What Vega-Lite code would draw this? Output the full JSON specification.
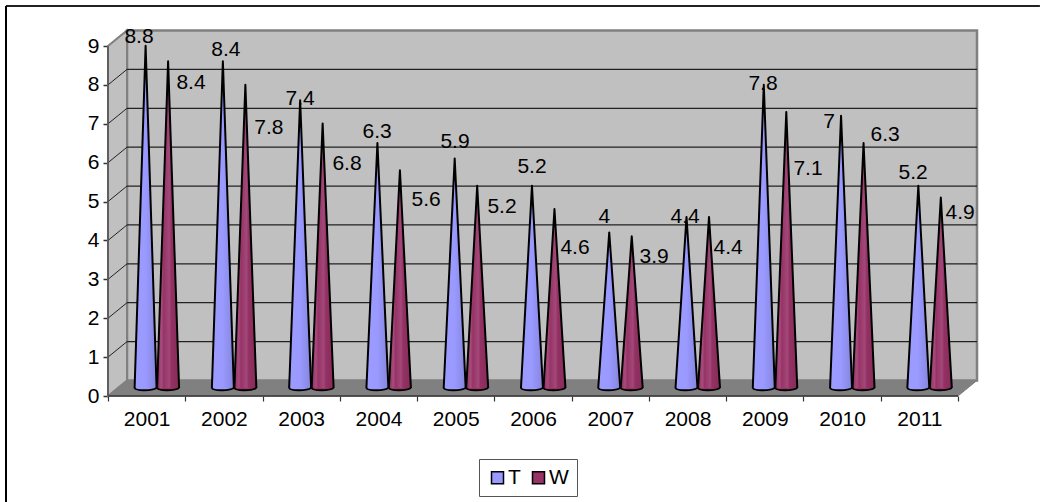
{
"$schema":"https://vega.github.io/schema/vega-lite/v6.json",
"width":850,"height":350,
"autosize":"none",
"padding":{"left":108,"top":46,"right":82,"bottom":106},
"background":"white",
"config":{"view":{"stroke":null},"font":"Liberation Sans"},
"datasets":{
"rates":[
{"year":2001,"series":"T","value":8.8,"baseLeft":0,"baseRight":0},
{"year":2002,"series":"T","value":8.4,"baseLeft":0,"baseRight":0},
{"year":2003,"series":"T","value":7.4,"baseLeft":0,"baseRight":0},
{"year":2004,"series":"T","value":6.3,"baseLeft":0,"baseRight":0},
{"year":2005,"series":"T","value":5.9,"baseLeft":0,"baseRight":0},
{"year":2006,"series":"T","value":5.2,"baseLeft":0,"baseRight":0},
{"year":2007,"series":"T","value":4,"baseLeft":0,"baseRight":0},
{"year":2008,"series":"T","value":4.4,"baseLeft":0,"baseRight":0},
{"year":2009,"series":"T","value":7.8,"baseLeft":0,"baseRight":0},
{"year":2010,"series":"T","value":7,"baseLeft":0,"baseRight":0},
{"year":2011,"series":"T","value":5.2,"baseLeft":0,"baseRight":0},
{"year":2001,"series":"W","value":8.4,"baseLeft":0,"baseRight":0},
{"year":2002,"series":"W","value":7.8,"baseLeft":0,"baseRight":0},
{"year":2003,"series":"W","value":6.8,"baseLeft":0,"baseRight":0},
{"year":2004,"series":"W","value":5.6,"baseLeft":0,"baseRight":0},
{"year":2005,"series":"W","value":5.2,"baseLeft":0,"baseRight":0},
{"year":2006,"series":"W","value":4.6,"baseLeft":0,"baseRight":0},
{"year":2007,"series":"W","value":3.9,"baseLeft":0,"baseRight":0},
{"year":2008,"series":"W","value":4.4,"baseLeft":0,"baseRight":0},
{"year":2009,"series":"W","value":7.1,"baseLeft":0,"baseRight":0},
{"year":2010,"series":"W","value":6.3,"baseLeft":0,"baseRight":0},
{"year":2011,"series":"W","value":4.9,"baseLeft":0,"baseRight":0}
],
"levels":[{"level":1},{"level":2},{"level":3},{"level":4},{"level":5},{"level":6},{"level":7},{"level":8}],
"floor":[{"corner":1,"x":2000.5,"y":0},{"corner":2,"x":2000.746,"y":0.4},{"corner":3,"x":2011.746,"y":0.4},{"corner":4,"x":2011.5,"y":0}],
"sideWall":[{"corner":1,"x":2000.5,"y":0},{"corner":2,"x":2000.5,"y":9},{"corner":3,"x":2000.746,"y":9.4},{"corner":4,"x":2000.746,"y":0.4}]
},
"resolve":{"scale":{"x":"independent","xOffset":"independent"},"axis":{"x":"independent","y":"independent"}},
"layer":[
{"description":"back wall",
 "data":{"values":[{}]},
 "mark":{"type":"rect","fill":"#c0c0c0","stroke":"#808080","strokeWidth":2.5},
 "encoding":{
  "x":{"datum":2000.746,"type":"quantitative","scale":{"domain":[2000.5,2011.5]},"axis":null},
  "x2":{"datum":2011.746},
  "y":{"datum":0.4,"type":"quantitative","scale":{"domain":[0,9]},
       "axis":{"values":[0,1,2,3,4,5,6,7,8,9],"format":"d","title":null,"grid":false,"domain":false,"tickSize":5,"tickColor":"#333","tickWidth":1.5,"labelFontSize":21,"labelColor":"#000","labelPadding":4,"labelFlush":false,"labelOverlap":false}},
  "y2":{"datum":9.4}
 }},
{"description":"side wall",
 "data":{"name":"sideWall"},
 "mark":{"type":"line","interpolate":"linear-closed","fill":"#c0c0c0","stroke":"#808080","strokeWidth":2},
 "encoding":{
  "x":{"field":"x","type":"quantitative","scale":{"domain":[2000.5,2011.5]},"axis":null},
  "y":{"field":"y","type":"quantitative","scale":{"domain":[0,9]},"axis":null},
  "order":{"field":"corner","type":"ordinal"}
 }},
{"description":"floor",
 "data":{"name":"floor"},
 "mark":{"type":"line","interpolate":"linear-closed","fill":"#808080","stroke":"#808080","strokeWidth":1},
 "encoding":{
  "x":{"field":"x","type":"quantitative","scale":{"domain":[2000.5,2011.5]},"axis":null},
  "y":{"field":"y","type":"quantitative","scale":{"domain":[0,9]},"axis":null},
  "order":{"field":"corner","type":"ordinal"}
 }},
{"description":"gridlines across the back wall",
 "data":{"name":"levels"},
 "mark":{"type":"rule","stroke":"#222","strokeWidth":1.2,"xOffset":19,"x2Offset":19,"yOffset":-15.5},
 "encoding":{
  "x":{"datum":2000.5,"type":"quantitative","scale":{"domain":[2000.5,2011.5]},"axis":null},
  "x2":{"datum":2011.5},
  "y":{"field":"level","type":"quantitative","scale":{"domain":[0,9]},"axis":null}
 }},
{"description":"gridlines across the side wall",
 "data":{"name":"levels"},
 "mark":{"type":"rule","stroke":"#222","strokeWidth":1,"x2Offset":19,"y2Offset":-15.5},
 "encoding":{
  "x":{"datum":2000.5,"type":"quantitative","scale":{"domain":[2000.5,2011.5]},"axis":null},
  "x2":{"datum":2000.5},
  "y":{"field":"level","type":"quantitative","scale":{"domain":[0,9]},"axis":null},
  "y2":{"field":"level"}
 }},
{"description":"axis lines",
 "data":{"values":[{}]},
 "mark":{"type":"rule","stroke":"#333","strokeWidth":1.5},
 "encoding":{
  "x":{"datum":2000.5,"type":"quantitative","scale":{"domain":[2000.5,2011.5]},"axis":null},
  "x2":{"datum":2011.5},
  "y":{"datum":0,"type":"quantitative","scale":{"domain":[0,9]},"axis":null}
 }},
{"data":{"values":[{}]},
 "mark":{"type":"rule","stroke":"#555","strokeWidth":1.5},
 "encoding":{
  "x":{"datum":2000.5,"type":"quantitative","scale":{"domain":[2000.5,2011.5]},"axis":null},
  "y":{"datum":0,"type":"quantitative","scale":{"domain":[0,9]},"axis":null},
  "y2":{"datum":9}
 }},
{"description":"T cones",
 "data":{"name":"rates"},
 "transform":[{"filter":"datum.series === 'T'"},{"fold":["baseLeft","value","baseRight"],"as":["vertex","height"]}],
 "mark":{"type":"line","yOffset":-8,"stroke":"#000","strokeWidth":2,"strokeJoin":"round",
  "fill":{"gradient":"linear","x1":0,"y1":0,"x2":1,"y2":0,"stops":[{"offset":0,"color":"#9c9cff"},{"offset":0.5,"color":"#9999ff"},{"offset":1,"color":"#8585dc"}]}},
 "encoding":{
  "x":{"field":"year","type":"ordinal","scale":{"type":"band","domain":[2001,2002,2003,2004,2005,2006,2007,2008,2009,2010,2011],"paddingInner":0,"paddingOuter":0},
       "axis":{"title":null,"grid":false,"domain":false,"labelAngle":0,"tickBand":"extent","tickSize":5,"tickColor":"#333","tickWidth":1.2,"labelFontSize":21,"labelColor":"#000","labelPadding":7,"labelFlush":false,"labelOverlap":false}},
  "xOffset":{"field":"vertex","type":"nominal","scale":{"type":"point","domain":["baseLeft","value","baseRight"],"range":[26.6,48.6],"padding":0}},
  "y":{"field":"height","type":"quantitative","scale":{"domain":[0,9]},"axis":null},
  "detail":{"field":"year"},
  "order":null
 }},
{"description":"W cones",
 "data":{"name":"rates"},
 "transform":[{"filter":"datum.series === 'W'"},{"fold":["baseLeft","value","baseRight"],"as":["vertex","height"]}],
 "mark":{"type":"line","yOffset":-8,"stroke":"#000","strokeWidth":2,"strokeJoin":"round",
  "fill":{"gradient":"linear","x1":0,"y1":0,"x2":1,"y2":0,"stops":[{"offset":0,"color":"#8f2f5f"},{"offset":0.2,"color":"#a64c7c"},{"offset":0.3,"color":"#973366"},{"offset":0.55,"color":"#a24878"},{"offset":0.65,"color":"#933163"},{"offset":1,"color":"#872c59"}]}},
 "encoding":{
  "x":{"field":"year","type":"ordinal","scale":{"type":"band","domain":[2001,2002,2003,2004,2005,2006,2007,2008,2009,2010,2011],"paddingInner":0,"paddingOuter":0},"axis":null},
  "xOffset":{"field":"vertex","type":"nominal","scale":{"type":"point","domain":["baseLeft","value","baseRight"],"range":[49.1,71.1],"padding":0}},
  "y":{"field":"height","type":"quantitative","scale":{"domain":[0,9]},"axis":null},
  "detail":{"field":"year"},
  "order":null
 }},
{"description":"rounded cone bases, which also carry the series legend",
 "data":{"name":"rates"},
 "mark":{"type":"point","filled":true,"opacity":1,"yOffset":-8,"stroke":"#000","strokeWidth":2,"size":484,"shape":"M-1,0C-0.9,0.25 0.5,0.3 1,0"},
 "encoding":{
  "x":{"field":"year","type":"ordinal","scale":{"type":"band","domain":[2001,2002,2003,2004,2005,2006,2007,2008,2009,2010,2011],"paddingInner":0,"paddingOuter":0},"axis":null},
  "xOffset":{"field":"series","type":"nominal","scale":{"type":"point","domain":["T","W"],"range":[37.6,60.1],"padding":0}},
  "y":{"field":"baseLeft","type":"quantitative","scale":{"domain":[0,9]},"axis":null},
  "fill":{"field":"series","type":"nominal","scale":{"domain":["T","W"],"range":["#9999ff","#993366"]},
   "legend":{"title":null,"orient":"none","legendX":371,"legendY":413,"direction":"horizontal","columns":2,"symbolType":"square","symbolSize":144,"symbolStrokeColor":"#000","symbolStrokeWidth":1.5,"labelFontSize":21,"labelColor":"#000","strokeColor":"#555","fillColor":"#fff","padding":8,"labelOffset":0,"columnPadding":7}}
 }},
{"description":"value labels, each set beside its own cone",
 "data":{"name":"rates"},
 "encoding":{
  "x":{"field":"year","type":"ordinal","scale":{"type":"band","domain":[2001,2002,2003,2004,2005,2006,2007,2008,2009,2010,2011],"paddingInner":0,"paddingOuter":0},"axis":null},
  "y":{"field":"value","type":"quantitative","scale":{"domain":[0,9]},"axis":null},
  "text":{"field":"value","type":"nominal"}
 },
 "layer":[
  {"transform":[{"filter":"datum.series==='T'&&datum.year===2001"}],"mark":{"type":"text","fontSize":21,"fill":"#000","baseline":"middle","dx":-7.6,"dy":-17}},
  {"transform":[{"filter":"datum.series==='T'&&datum.year===2002"}],"mark":{"type":"text","fontSize":21,"fill":"#000","baseline":"middle","dx":2,"dy":-19}},
  {"transform":[{"filter":"datum.series==='T'&&datum.year===2003"}],"mark":{"type":"text","fontSize":21,"fill":"#000","baseline":"middle","dx":-1,"dy":-9}},
  {"transform":[{"filter":"datum.series==='T'&&datum.year===2004"}],"mark":{"type":"text","fontSize":21,"fill":"#000","baseline":"middle","dx":-1.4,"dy":-19}},
  {"transform":[{"filter":"datum.series==='T'&&datum.year===2005"}],"mark":{"type":"text","fontSize":21,"fill":"#000","baseline":"middle","dx":-0.7,"dy":-25}},
  {"transform":[{"filter":"datum.series==='T'&&datum.year===2006"}],"mark":{"type":"text","fontSize":21,"fill":"#000","baseline":"middle","dx":-1,"dy":-27}},
  {"transform":[{"filter":"datum.series==='T'&&datum.year===2007"}],"mark":{"type":"text","fontSize":21,"fill":"#000","baseline":"middle","dx":-6,"dy":-23}},
  {"transform":[{"filter":"datum.series==='T'&&datum.year===2008"}],"mark":{"type":"text","fontSize":21,"fill":"#000","baseline":"middle","dx":-2.5,"dy":-8}},
  {"transform":[{"filter":"datum.series==='T'&&datum.year===2009"}],"mark":{"type":"text","fontSize":21,"fill":"#000","baseline":"middle","dx":-1.8,"dy":-9}},
  {"transform":[{"filter":"datum.series==='T'&&datum.year===2010"}],"mark":{"type":"text","fontSize":21,"fill":"#000","baseline":"middle","dx":-13,"dy":-2}},
  {"transform":[{"filter":"datum.series==='T'&&datum.year===2011"}],"mark":{"type":"text","fontSize":21,"fill":"#000","baseline":"middle","dx":-6.3,"dy":-21}},
  {"transform":[{"filter":"datum.series==='W'&&datum.year===2001"}],"mark":{"type":"text","fontSize":21,"fill":"#000","baseline":"middle","dx":44.4,"dy":13.7}},
  {"transform":[{"filter":"datum.series==='W'&&datum.year===2002"}],"mark":{"type":"text","fontSize":21,"fill":"#000","baseline":"middle","dx":45,"dy":35.3}},
  {"transform":[{"filter":"datum.series==='W'&&datum.year===2003"}],"mark":{"type":"text","fontSize":21,"fill":"#000","baseline":"middle","dx":45.8,"dy":32.5}},
  {"transform":[{"filter":"datum.series==='W'&&datum.year===2004"}],"mark":{"type":"text","fontSize":21,"fill":"#000","baseline":"middle","dx":47.6,"dy":21.8}},
  {"transform":[{"filter":"datum.series==='W'&&datum.year===2005"}],"mark":{"type":"text","fontSize":21,"fill":"#000","baseline":"middle","dx":46.3,"dy":13.2}},
  {"transform":[{"filter":"datum.series==='W'&&datum.year===2006"}],"mark":{"type":"text","fontSize":21,"fill":"#000","baseline":"middle","dx":42,"dy":30.9}},
  {"transform":[{"filter":"datum.series==='W'&&datum.year===2007"}],"mark":{"type":"text","fontSize":21,"fill":"#000","baseline":"middle","dx":43.8,"dy":12.7}},
  {"transform":[{"filter":"datum.series==='W'&&datum.year===2008"}],"mark":{"type":"text","fontSize":21,"fill":"#000","baseline":"middle","dx":40.5,"dy":23.1}},
  {"transform":[{"filter":"datum.series==='W'&&datum.year===2009"}],"mark":{"type":"text","fontSize":21,"fill":"#000","baseline":"middle","dx":43.2,"dy":49.1}},
  {"transform":[{"filter":"datum.series==='W'&&datum.year===2010"}],"mark":{"type":"text","fontSize":21,"fill":"#000","baseline":"middle","dx":43,"dy":-16}},
  {"transform":[{"filter":"datum.series==='W'&&datum.year===2011"}],"mark":{"type":"text","fontSize":21,"fill":"#000","baseline":"middle","dx":40.7,"dy":7.6}}
 ]},
{"description":"chart frame, top edge",
 "data":{"values":[{}]},
 "mark":{"type":"rule","stroke":"#222","strokeWidth":2},
 "encoding":{
  "x":{"datum":1999.18,"type":"quantitative","scale":{"domain":[2000.5,2011.5]},"axis":null},
  "x2":{"datum":2012.56},
  "y":{"datum":10.03,"type":"quantitative","scale":{"domain":[0,9]},"axis":null}
 }},
{"description":"chart frame, left edge",
 "data":{"values":[{}]},
 "mark":{"type":"rule","stroke":"#000","strokeWidth":2},
 "encoding":{
  "x":{"datum":1999.18,"type":"quantitative","scale":{"domain":[2000.5,2011.5]},"axis":null},
  "y":{"datum":10.03,"type":"quantitative","scale":{"domain":[0,9]},"axis":null},
  "y2":{"datum":-2.73}
 }}
]
}
